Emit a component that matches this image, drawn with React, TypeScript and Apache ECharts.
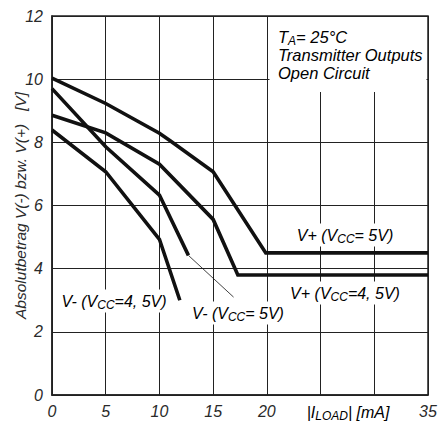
import React, { useEffect, useRef } from "react";
import * as echarts from "echarts";

const xTicks = [0, 5, 10, 15, 20, 25, 30, 35];
const yTicks = [0, 2, 4, 6, 8, 10, 12];

const vPlus5: [number, number][] = [[0, 10.03], [5, 9.23], [10, 8.29], [11, 8.05], [15, 7.07], [19.9, 4.5], [35, 4.5]];
const vPlus45: [number, number][] = [[0, 8.86], [5, 8.3], [10, 7.31], [15, 5.56], [17.3, 3.8], [35, 3.8]];
const vMinus5: [number, number][] = [[0, 9.7], [5, 7.86], [10, 6.33], [12.7, 4.42]];
const vMinus45: [number, number][] = [[0, 8.39], [5, 7.07], [10, 4.93], [11.9, 3.0]];
const leader: [number, number][] = [[12.7, 4.42], [16.9, 3.1]];

const FONT = "'Liberation Sans Narrow', 'Liberation Sans', Arial, sans-serif";
const TXT = "#2a2a2a";

const rich = {
  a: { fontSize: 16, fontStyle: "italic", fontFamily: FONT, color: TXT },
  s: { fontSize: 12, fontStyle: "italic", fontFamily: FONT, color: TXT, padding: [7, 0, 0, 0] },
};

export default function App() {
  const ref = useRef<HTMLDivElement>(null);
  useEffect(() => {
    if (!ref.current) return;
    const chart = echarts.init(ref.current, null, { renderer: "svg" });
    const lineSeries = (data: [number, number][], w = 3.6) => ({
      type: "line",
      data,
      symbol: "none",
      lineStyle: { color: "#111", width: w, join: "miter" },
      z: 3,
    });
    const label = (x: number, y: number, text: string, align = "center") => ({
      type: "text",
      x,
      y,
      z: 10,
      style: {
        text,
        rich,
        align,
        verticalAlign: "middle",
        backgroundColor: "#fff",
        padding: [2, 3, 2, 3],
      },
    });
    chart.setOption({
      animation: false,
      grid: {
        left: 52, right: 15, top: 16, bottom: 26,
        show: true, borderColor: "#222", borderWidth: 1.5,
        outerBoundsMode: "none", containLabel: false,
      },
      xAxis: {
        type: "value",
        min: xTicks[0],
        max: xTicks[xTicks.length - 1],
        interval: 5,
        axisLine: { show: true, lineStyle: { color: "#222", width: 1.5 } },
        axisTick: { show: false },
        splitLine: { show: true, lineStyle: { color: "#222", width: 1 } },
        axisLabel: {
          margin: 8,
          fontSize: 16,
          fontStyle: "italic",
          fontFamily: FONT,
          color: TXT,
          formatter: (v: number) => (v === 25 || v === 30 ? "" : String(v)),
        },
      },
      yAxis: {
        type: "value",
        min: yTicks[0],
        max: yTicks[yTicks.length - 1],
        interval: 2,
        axisLine: { show: true, lineStyle: { color: "#222", width: 1.5 } },
        axisTick: { show: false },
        splitLine: { show: true, lineStyle: { color: "#222", width: 1 } },
        axisLabel: { margin: 9, fontSize: 16, fontStyle: "italic", fontFamily: FONT, color: TXT },
        name: "Absolutbetrag V(-) bzw. V(+)   [V]",
        nameLocation: "middle",
        nameGap: 24,
        nameMoveOverlap: false,
        nameTextStyle: { fontSize: 15.5, fontStyle: "italic", fontFamily: FONT, color: TXT },
      },
      series: [
        lineSeries(vPlus5),
        lineSeries(vPlus45),
        lineSeries(vMinus5),
        lineSeries(vMinus45),
        lineSeries(leader, 0.8),
      ],
      graphic: [
        { type: "rect", z: 5, shape: { x: 269.5, y: 17, width: 157, height: 75 }, style: { fill: "#fff" } },
        {
          type: "text",
          x: 278,
          y: 28,
          z: 10,
          style: {
            text: "{a|T}{s|A}{a|= 25°C}\n{a|Transmitter Outputs}\n{a|Open Circuit}",
            rich: {
              a: { ...rich.a, fontSize: 16.5, lineHeight: 18 },
              s: { ...rich.s, lineHeight: 18 },
            },
            verticalAlign: "top",
          },
        },
        label(345, 235, "{a|V+ (V}{s|CC}{a|= 5V)}"),
        label(345, 293, "{a|V+ (V}{s|CC}{a|=4, 5V)}"),
        label(238, 313, "{a|V- (V}{s|CC}{a|= 5V)}"),
        label(114, 301, "{a|V- (V}{s|CC}{a|=4, 5V)}"),
        label(348, 412, "{a||I}{s|LOAD}{a|| [mA]}"),
      ],
    });
    return () => chart.dispose();
  }, []);
  return <div ref={ref} style={{ width: 443, height: 421, position: "absolute", left: 0, top: 0 }} />;
}
